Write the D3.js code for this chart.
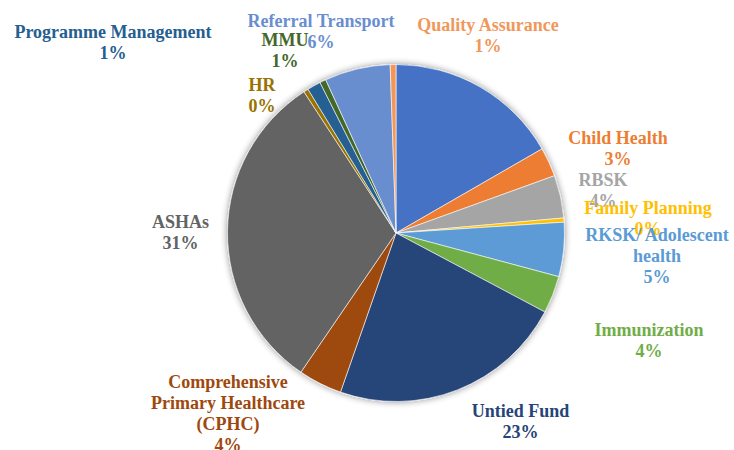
<!DOCTYPE html>
<html>
<head>
<meta charset="utf-8">
<script src="https://cdn.jsdelivr.net/npm/d3@7"></script>
<style>
  html, body { margin: 0; padding: 0; background: #ffffff; }
  svg { display: block; }
</style>
</head>
<body>
<svg id="chart" width="734" height="450"></svg>
<script>
// ---- data (clockwise from 12 o'clock) ----
const categories = [
  "Other",
  "Child Health",
  "RBSK",
  "Family Planning",
  "RKSK/ Adolescent\nhealth",
  "Immunization",
  "Untied Fund",
  "Comprehensive\nPrimary Healthcare\n(CPHC)",
  "ASHAs",
  "HR",
  "Programme Management",
  "MMU",
  "Referral Transport",
  "Quality Assurance"
];
const values = [16.7, 2.8, 4.1, 0.4, 5.2, 3.6, 22.6, 4.2, 31.3, 0.45, 1.3, 0.6, 6.3, 0.55];
const showLabel = [false, true, true, true, true, true, true, true, true, true, true, true, true, true];

// ---- styles / layout ----
const colors = ["#4472C4", "#ED7D31", "#A5A5A5", "#FFC000", "#5B9BD5", "#70AD47",
                "#264478", "#9E480E", "#636363", "#997300", "#255E91", "#43682B",
                "#698ED0", "#F1975A"];
const cx = 396, cy = 233, radius = 168.5;
const lineStep = 21;
// label first-line centre offsets relative to the pie centre
const labelOffsets = [
  [0, 0], [222, -95], [207, -53], [252, -25], [261, 2], [253, 97], [124.5, 178],
  [-168, 149], [-215.5, -11], [-134, -148], [-283, -201], [-111, -193], [-75, -212], [92, -208]
];

const svg = d3.select("#chart");
const defs = svg.append("defs");
const filt = defs.append("filter").attr("id", "shadow")
  .attr("x", "-20%").attr("y", "-20%").attr("width", "140%").attr("height", "140%");
filt.append("feGaussianBlur").attr("in", "SourceAlpha").attr("stdDeviation", 3.5).attr("result", "blur");
filt.append("feOffset").attr("in", "blur").attr("dx", 0).attr("dy", 0).attr("result", "off");
filt.append("feComponentTransfer").attr("in", "off").attr("result", "sh")
  .append("feFuncA").attr("type", "linear").attr("slope", 0.45);
const merge = filt.append("feMerge");
merge.append("feMergeNode").attr("in", "sh");
merge.append("feMergeNode").attr("in", "SourceGraphic");

const data = categories.map((c, i) => ({ name: c, value: values[i], i }));
const total = d3.sum(values);

const pie = d3.pie().value(d => d.value).sort(null).startAngle(0).endAngle(2 * Math.PI);
const arc = d3.arc().innerRadius(0).outerRadius(radius);
const arcs = pie(data);

const g = svg.append("g").attr("transform", `translate(${cx},${cy})`);
g.append("g").attr("filter", "url(#shadow)")
  .selectAll("path").data(arcs).join("path")
  .attr("d", arc)
  .attr("fill", d => colors[d.data.i])
  .attr("stroke", "#ffffff")
  .attr("stroke-width", 0.6);

const fmtPct = v => Math.round(v / total * 100) + "%";

const labels = g.append("g")
  .style("font-family", "'Liberation Serif', 'Times New Roman', serif")
  .style("font-weight", "bold")
  .style("font-size", "18px")
  .attr("text-anchor", "middle");

arcs.filter(d => showLabel[d.data.i]).forEach(d => {
  const i = d.data.i;
  const lines = d.data.name.split("\n").concat([fmtPct(d.data.value)]);
  const [ox, oy] = labelOffsets[i];
  const t = labels.append("text")
    .attr("fill", colors[i])
    .attr("x", ox).attr("y", oy);
  lines.forEach((ln, k) => {
    t.append("tspan").attr("x", ox).attr("y", oy + k * lineStep).attr("dy", "0.35em").text(ln);
  });
});
</script>
</body>
</html>
